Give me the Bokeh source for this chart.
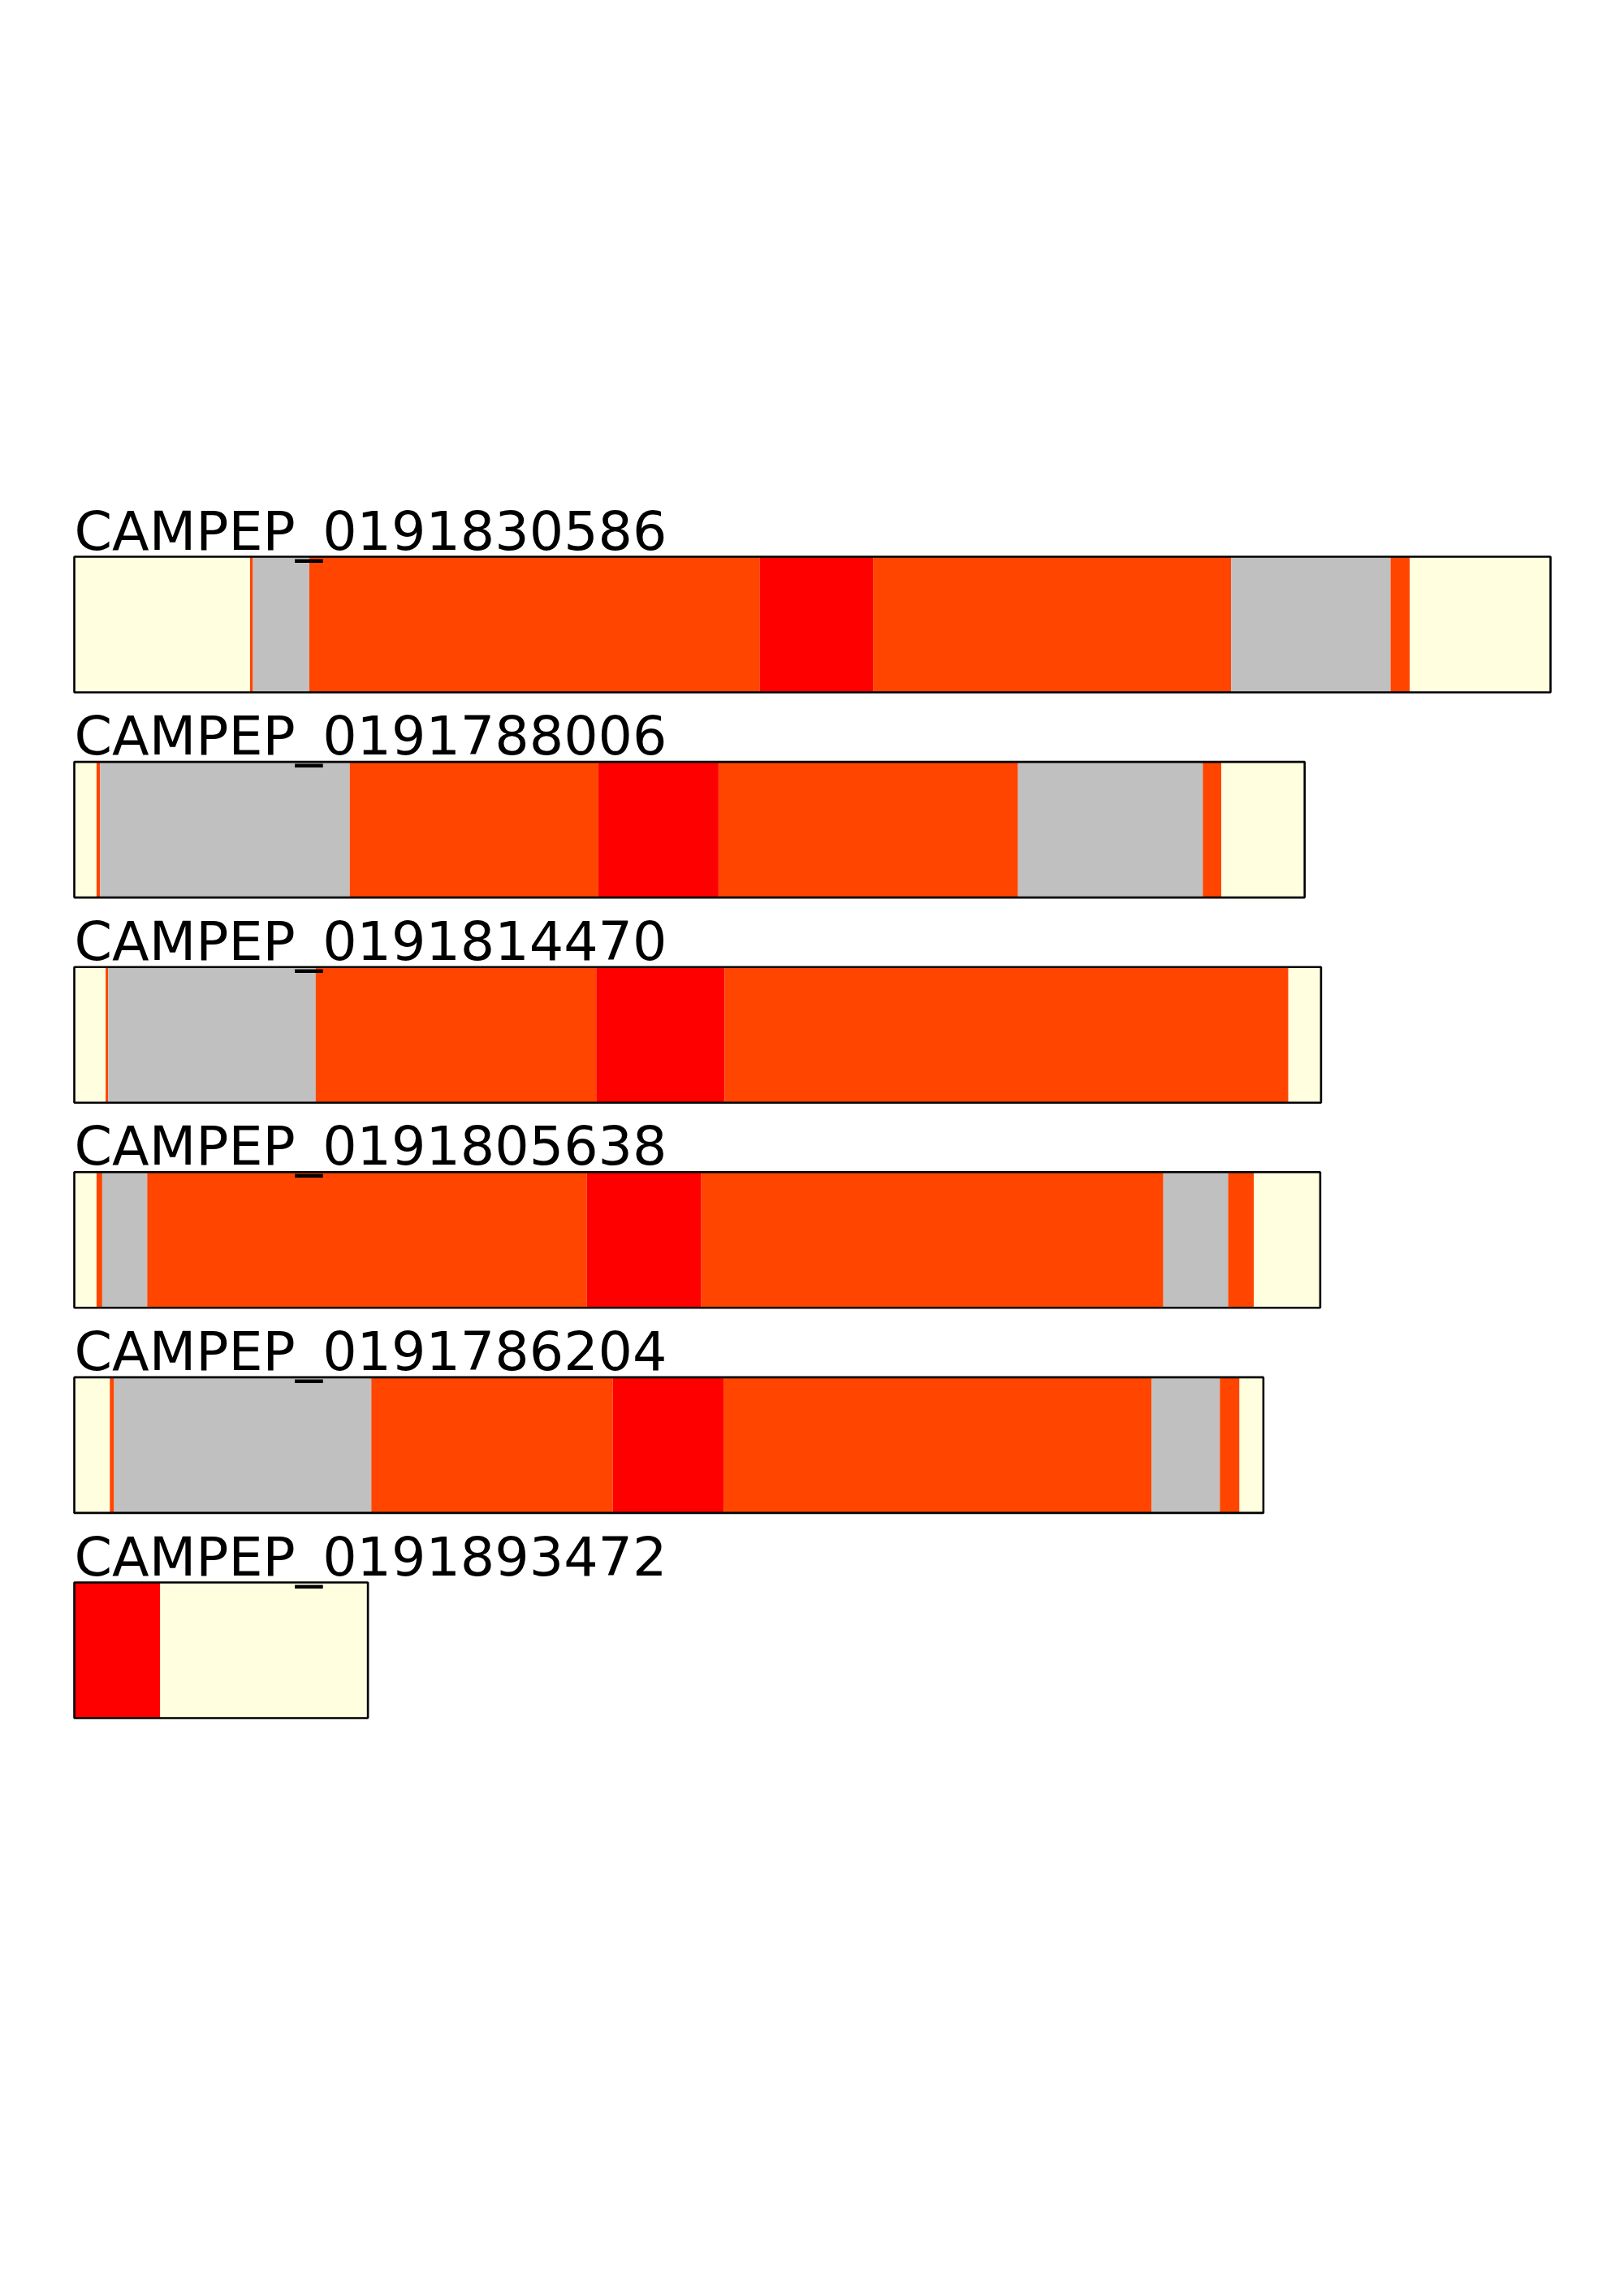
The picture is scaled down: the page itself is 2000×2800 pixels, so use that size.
from bokeh.plotting import figure
from bokeh.models import Range1d, ColumnDataSource
from bokeh.core.properties import value
from bokeh.embed import file_html
from bokeh.resources import INLINE

# ---- data (positions along each sequence, residues) ----
proteins = ["CAMPEP_0191830586", "CAMPEP_0191788006", "CAMPEP_0191814470",
            "CAMPEP_0191805638", "CAMPEP_0191786204", "CAMPEP_0191893472"]
lengths = [909, 757.6, 767.7, 767.2, 732.2, 180.8]

p1_bounds = [0, 108.2, 110.0, 144.7, 422.2, 491.8, 712.3, 810.5, 822.3, 909]
p1_colors = ["lightyellow", "orangered", "silver", "orangered", "red", "orangered", "silver", "orangered", "lightyellow"]

p2_bounds = [0, 13.7, 15.9, 169.6, 322.7, 396.7, 581.1, 694.9, 706.3, 757.6]
p2_colors = ["lightyellow", "orangered", "silver", "orangered", "red", "orangered", "silver", "orangered", "lightyellow"]

p3_bounds = [0, 19.3, 20.8, 148.6, 321.4, 400.5, 747.6, 767.7]
p3_colors = ["lightyellow", "orangered", "silver", "orangered", "red", "orangered", "lightyellow"]

p4_bounds = [0, 13.7, 17.2, 44.9, 315.6, 386.1, 670.6, 710.5, 726.4, 767.2]
p4_colors = ["lightyellow", "orangered", "silver", "orangered", "red", "orangered", "silver", "orangered", "lightyellow"]

p5_bounds = [0, 21.9, 24.5, 182.9, 331.6, 399.8, 663.4, 705.4, 717.5, 732.2]
p5_colors = ["lightyellow", "orangered", "silver", "orangered", "red", "orangered", "silver", "orangered", "lightyellow"]

p6_bounds = [0, 52.9, 180.8]
p6_colors = ["red", "lightyellow"]

all_bounds = [p1_bounds, p2_bounds, p3_bounds, p4_bounds, p5_bounds, p6_bounds]
all_colors = [p1_colors, p2_colors, p3_colors, p4_colors, p5_colors, p6_colors]

# ---- layout ----
W, H = 1984, 2784
PX_PER_UNIT = 2.0
LEFT_PX = 91.0          # figure px of sequence position 0
ROW_PX = 252.6          # row spacing in px
ROW0_CENTER_PX = 768.5  # figure px of row 0 centre
BAR_H = 167.0 / ROW_PX
TITLE_GAP = 32.0 / ROW_PX

x_start = -LEFT_PX / PX_PER_UNIT
x_end = (W - LEFT_PX) / PX_PER_UNIT
y_bottom = (H - ROW0_CENTER_PX) / ROW_PX
y_top = -ROW0_CENTER_PX / ROW_PX

p = figure(width=W, height=H, output_backend="svg", toolbar_location=None,
           x_range=Range1d(x_start, x_end), y_range=Range1d(y_bottom, y_top),
           min_border=0, background_fill_color="white", border_fill_color="white")
p.axis.visible = False
p.xgrid.visible = False
p.ygrid.visible = False
p.outline_line_color = None

lefts, rights, tops, bottoms, cols = [], [], [], [], []
for i, (b, c) in enumerate(zip(all_bounds, all_colors)):
    for j in range(len(c)):
        lefts.append(b[j])
        rights.append(b[j + 1])
        tops.append(i - BAR_H / 2)
        bottoms.append(i + BAR_H / 2)
        cols.append(c[j])

seg_src = ColumnDataSource(dict(left=lefts, right=rights, top=tops, bottom=bottoms, color=cols))
p.quad(left="left", right="right", top="top", bottom="bottom", fill_color="color",
       line_color=None, source=seg_src)

rows = list(range(len(proteins)))
box_src = ColumnDataSource(dict(left=[0] * len(rows), right=lengths,
                                top=[r - BAR_H / 2 for r in rows],
                                bottom=[r + BAR_H / 2 for r in rows]))
p.quad(left="left", right="right", top="top", bottom="bottom", fill_color=None,
       line_color="black", line_width=2.6, source=box_src)

txt_src = ColumnDataSource(dict(x=[0] * len(rows), y=[r - BAR_H / 2 - TITLE_GAP for r in rows],
                                text=proteins))
p.text(x="x", y="y", text="text", source=txt_src, text_font=value("DejaVu Sans"),
       text_font_size=value("66.7px"), text_baseline="alphabetic", text_align="left",
       text_color="black")

open("out.html", "w").write(file_html(p, INLINE))
